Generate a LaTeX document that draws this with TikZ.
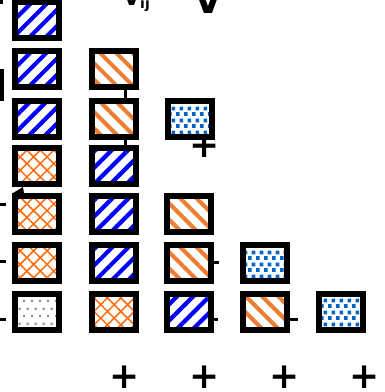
\documentclass[tikz,border=0pt]{standalone}
\usepackage{fontspec}
\setsansfont{DejaVu Sans}
\usetikzlibrary{patterns.meta}
\definecolor{bluel}{RGB}{0,0,255}
\definecolor{orangel}{RGB}{237,125,49}
\definecolor{orangex}{RGB}{252,108,10}
\definecolor{blued}{RGB}{0,102,204}
\definecolor{grayd}{RGB}{140,140,140}
\tikzdeclarepattern{
  name=bluesq,
  type=uncolored,
  bounding box={(0pt,0pt) and (8pt,12pt)},
  tile size={(8pt,12pt)},
  code={
    \fill (0pt,0pt) rectangle (4pt,4pt);
    \fill (4pt,6pt) rectangle (8pt,10pt);
  }
}
\tikzdeclarepattern{
  name=graydots,
  type=uncolored,
  bounding box={(0pt,0pt) and (7.5pt,15pt)},
  tile size={(7.5pt,15pt)},
  code={
    \fill (0pt,0pt) rectangle (2.2pt,2.2pt);
    \fill (3.75pt,7.5pt) rectangle (5.95pt,9.7pt);
  }
}
\begin{document}
\begin{tikzpicture}[x=1pt,y=-1pt,
  box/.style={draw=black, line width=6pt, minimum width=44pt, minimum height=36pt,
    inner sep=0pt, outer sep=0pt, preaction={fill=white}},
  blines/.style={box, pattern={Lines[angle=45,distance=11.5pt,line width=4.2pt]}, pattern color=bluel},
  olines/.style={box, pattern={Lines[angle=-45,distance=11.5pt,line width=4pt]}, pattern color=orangel},
  ohatch/.style={box, pattern={Hatch[angle=45,distance=9.5pt,line width=1.5pt]}, pattern color=orangex},
  gdots/.style={box, pattern=graydots, pattern color=grayd},
  bdots/.style={box, pattern=bluesq, pattern color=blued},
  plus/.style={font=\sffamily\bfseries\fontsize{36}{36}\selectfont, inner sep=0pt, anchor=center},
  tick/.style={line width=3pt},
  conn/.style={line width=3pt}
]
\useasboundingbox (0,0) rectangle (385,392);
\clip (0,0) rectangle (385,392);
% top texts (cut off at the edge, as in the reference)
\node[font=\sffamily\bfseries\fontsize{22}{22}\selectfont, inner sep=0pt, anchor=base west] (vij) at (123,5) {V\raisebox{-3pt}{\fontsize{14}{14}\selectfont ij}};
\node[font=\sffamily\bfseries\fontsize{36}{36}\selectfont, inner sep=0pt, anchor=base] (vbig) at (208.5,13) {V};
% plus signs
\node[plus] (pm) at (205,146) {+};
\node[plus] (p1) at (125,377) {+};
\node[plus] (p2) at (205,377) {+};
\node[plus] (p3) at (285,377) {+};
\node[plus] (p4) at (364.5,377) {+};
\coordinate (cx) at (125,0);
% boxes
\node[blines] (b11) at (37,20) {};
\node[blines] (b12) at (37,69) {};
\node[blines] (b13) at (37,118.5) {};
\node[ohatch] (b14) at (37,165.5) {};
\node[ohatch] (b15) at (37,213.5) {};
\node[ohatch] (b16) at (37,262.5) {};
\node[gdots]  (b17) at (37,311.5) {};
\node[olines] (b22) at (113.5,69) {};
\node[olines] (b23) at (113.5,118.5) {};
\node[blines] (b24) at (113.5,165.5) {};
\node[blines] (b25) at (113.5,213.5) {};
\node[blines] (b26) at (113.5,262.5) {};
\node[ohatch] (b27) at (113.5,311.5) {};
\node[bdots]  (b33) at (189.5,118.5) {};
\node[olines] (b35) at (189,213.5) {};
\node[olines] (b36) at (189,262.5) {};
\node[blines] (b37) at (189,311.5) {};
\node[bdots]  (b46) at (264.5,262.5) {};
\node[olines] (b47) at (264.5,311.5) {};
\node[bdots]  (b57) at (341,311.5) {};
\draw[conn] (b22.south -| cx) -- (b23.north -| cx);
\draw[conn] (b23.south -| cx) -- (b24.north -| cx);
% small stubs
\draw[tick] (b36.east) ++(3,0) -- ++(5,0);
\draw[tick] (b37.east) ++(3,7.5) -- ++(4,0);
\draw[tick] (b47.east) ++(3,7.5) -- ++(8,0);
\coordinate (l5) at (0,204);
\coordinate (l6) at (0,261);
\coordinate (l7) at (0,319);
\draw[tick] (l5) -- ++(6,0);
\draw[tick] (l6) -- ++(6,0);
\draw[tick] (l7) -- ++(6,0);
% fragments at the left edge
\fill (0,69) rectangle (3.5,101);
\fill (0,0) rectangle (3,4);
\fill (13,193) -- (23,187) -- (24,193) -- cycle;
\end{tikzpicture}
\end{document}
